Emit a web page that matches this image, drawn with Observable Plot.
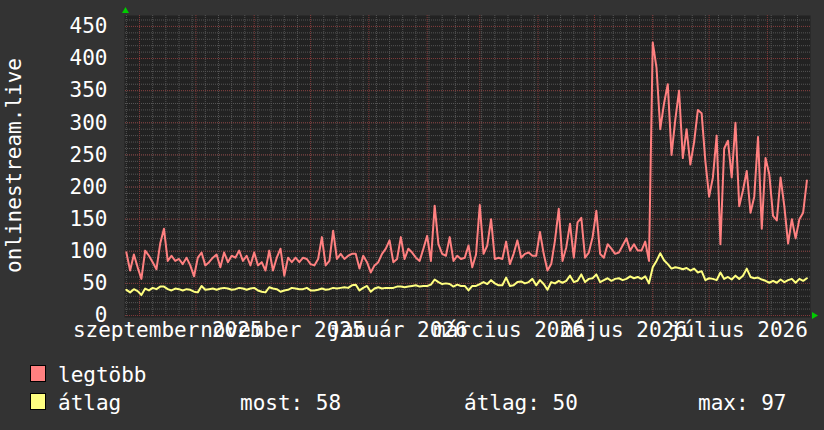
<!DOCTYPE html>
<html><head><meta charset="utf-8">
<script src="https://cdn.jsdelivr.net/npm/d3@7"></script>
<script src="https://cdn.jsdelivr.net/npm/@observablehq/plot@0.6"></script>
<style>
html,body{margin:0;padding:0;background:#333333;}
#wrap{position:relative;width:824px;height:430px;background:#333333;overflow:hidden;font-family:"DejaVu Sans Mono",monospace;color:#ffffff;}
#chart{position:absolute;left:0;top:0;}
.lg{position:absolute;font-size:21px;line-height:21px;white-space:pre;color:#ffffff;}
.sw{position:absolute;width:14px;height:15px;border:1px solid #000;}
</style></head><body>
<div id="wrap"><div id="chart"></div><div id="legend"></div></div>
<script>
// ---- data (one value every 2 days, starting 2025-08-25) ----
const startDay = "2025-08-25";
const stepDays = 2;
const maxValues = [
98,70,95,75,57,101,93,83,72,112,135,85,93,85,88,80,90,78,61,90,98,78,83,90,95,75,98,83,93,90,101,85,93,78,98,78,83,70,101,70,90,104,62,90,83,90,83,
90,88,80,78,88,122,78,85,132,88,96,88,93,96,96,73,93,83,67,78,83,96,104,117,83,88,122,88,104,98,90,85,104,124,85,171,111,96,93,122,85,93,88,90,109,75,95,
172,96,109,150,88,90,88,115,80,96,117,90,96,98,93,93,130,96,70,80,117,166,85,106,143,90,145,152,90,98,122,163,96,90,111,104,96,98,109,120,101,111,101,101,115,85,
425,386,290,330,360,250,305,350,245,290,235,270,320,315,240,185,215,280,111,260,272,215,300,170,195,225,160,185,278,135,245,220,155,148,215,170,112,150,120,150,160,210
];
const avgValues = [
40,36,41,38,32,42,39,43,41,45,45,41,39,42,41,39,41,40,37,36,46,40,41,42,40,42,43,42,40,41,43,42,40,42,43,39,37,36,44,42,41,37,39,40,43,42,41,
41,43,39,39,40,42,40,41,43,42,43,44,43,47,48,39,43,46,37,42,44,42,43,43,43,45,45,44,45,46,47,45,46,46,48,56,52,49,50,49,45,48,46,46,39,46,46,
49,52,49,55,50,47,47,59,46,47,52,53,50,52,57,47,55,49,40,52,50,54,51,54,62,52,54,64,52,57,58,64,52,55,58,54,57,58,55,57,61,58,60,57,61,50,
75,85,97,86,80,73,75,74,72,74,70,73,67,69,55,58,57,55,67,57,60,56,62,57,62,73,60,58,59,56,54,51,54,51,56,52,55,57,51,57,54,58
];
const yTicks = [0,50,100,150,200,250,300,350,400,450];
const xLabelMonths = ["2025-09","2025-11","2026-01","2026-03","2026-05","2026-07"];
const xLabelTexts = ["szeptember 2025","november 2025","január 2026","március 2026","május 2026","július 2026"];
const seriesNames = ["legtöbb","átlag"];
const seriesColors = ["#ff8080","#ffff80"];
const statLabels = ["most: 58","átlag: 50","max: 97"];
const yTitle = "onlinestream.live";

// ---- build table ----
const day0 = new Date(startDay + "T00:00:00Z");
const rows = maxValues.map((v, i) => ({
  date: new Date(+day0 + i * stepDays * 864e5),
  max: v,
  avg: avgValues[i]
}));
const xDomain = [new Date(Date.UTC(2025,7,24,13)), new Date(Date.UTC(2026,7,23,22))];
const weekLines = d3.utcMonday.range(xDomain[0], xDomain[1]);
const monthLines = d3.utcMonth.range(xDomain[0], xDomain[1]);
const labelRows = xLabelMonths.map((m, i) => {
  const a = new Date(m + "-01T00:00:00Z");
  const b = d3.utcMonth.offset(a, 1);
  return {date: new Date((+a + +b) / 2), text: xLabelTexts[i]};
});

const chart = Plot.plot({
  width: 824,
  height: 345,
  marginTop: 15,
  marginBottom: 30,
  marginLeft: 125,
  marginRight: 14,
  style: {background: "#333333", color: "#ffffff", fontFamily: "'DejaVu Sans Mono', monospace", overflow: "visible"},
  x: {type: "utc", domain: xDomain, axis: null},
  y: {domain: [0, 467], axis: null},
  marks: [
    Plot.frame({fill: "#222222", stroke: null, insetBottom: -2, insetLeft: -1}),
    Plot.ruleY(d3.range(0, 467, 10), {stroke: "#555555", strokeDasharray: "1,1"}),
    Plot.ruleX(weekLines, {stroke: "#555555", strokeDasharray: "1,1", insetBottom: -2}),
    Plot.ruleY(yTicks, {stroke: "#803838", strokeDasharray: "1,1"}),
    Plot.ruleX(monthLines, {stroke: "#803838", strokeDasharray: "1,1", insetBottom: -2}),
    Plot.lineY(rows, {x: "date", y: "max", stroke: seriesColors[0], strokeWidth: 2, curve: "linear"}),
    Plot.lineY(rows, {x: "date", y: "avg", stroke: seriesColors[1], strokeWidth: 2, curve: "linear"}),
    Plot.axisY(yTicks, {tickSize: 0, tickPadding: 18, fontSize: 21, fill: "#ffffff", label: null}),
    Plot.text([yTitle], {frameAnchor: "left", text: d => d, rotate: -90, dx: -111, fontSize: 21, fill: "#ffffff", textAnchor: "middle", lineAnchor: "middle"}),
    Plot.text(labelRows, {x: "date", frameAnchor: "bottom", text: "text", dy: 15, fontSize: 21, fill: "#ffffff", textAnchor: "middle", lineAnchor: "middle"}),
    Plot.dot([0], {frameAnchor: "top-left", symbol: "triangle", r: 2.6, fill: "#00cc00", stroke: null, dy: -4.5}),
    Plot.dot([0], {frameAnchor: "bottom-right", symbol: "triangle", r: 2.6, fill: "#00cc00", stroke: null, dx: 3.5, rotate: 90})
  ]
});
document.getElementById("chart").appendChild(chart);

// ---- legend ----
const lg = document.getElementById("legend");
function add(cls, left, top, text, color) {
  const d = document.createElement("div");
  d.className = cls;
  d.style.left = left + "px";
  d.style.top = top + "px";
  if (text != null) d.textContent = text;
  if (color) d.style.background = color;
  lg.appendChild(d);
}
add("sw", 30, 365, null, seriesColors[0]);
add("lg", 58, 365, seriesNames[0]);
add("sw", 30, 393, null, seriesColors[1]);
add("lg", 58, 393, seriesNames[1]);
add("lg", 240, 393, statLabels[0]);
add("lg", 464, 393, statLabels[1]);
add("lg", 698, 393, statLabels[2]);
</script>
</body></html>
